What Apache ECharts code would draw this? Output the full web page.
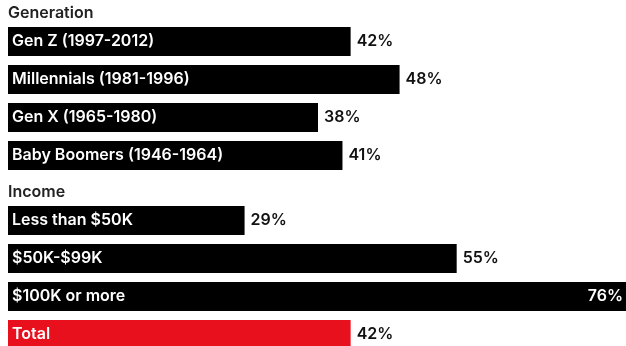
<!DOCTYPE html>
<html>
<head>
<meta charset="utf-8">
<script src="https://cdn.jsdelivr.net/npm/echarts@6/dist/echarts.min.js"></script>
<style>html,body{margin:0;padding:0;background:#fff}#c{width:626px;height:346px}</style>
</head>
<body>
<div id="c"></div>
<script>
var groupTitles = ["Generation", "Income"];
var genCategories = ["Gen Z (1997-2012)", "Millennials (1981-1996)", "Gen X (1965-1980)", "Baby Boomers (1946-1964)"];
var genValues = [42, 48, 38, 41];
var incomeCategories = ["Less than $50K", "$50K-$99K", "$100K or more", "Total"];
var incomeValues = [29, 55, 76, 42];

var FONT = "Inter, 'Noto Sans', sans-serif";
var BLACK = "#000000";
var RED = "#e8101c";

function barData(cats, vals) {
  return vals.map(function (v, i) {
    return { value: v, name: cats[i], itemStyle: { color: cats[i] === "Total" ? RED : BLACK } };
  });
}
function valueData(cats, vals, maxV) {
  return vals.map(function (v, i) {
    var d = { value: v, name: cats[i] };
    if (v >= maxV) {
      d.label = { position: "insideRight", color: "#ffffff", distance: 5 };
    }
    return d;
  });
}
var XMAX = 76;
var grids = [
  { left: 8, top: 22.5, width: 620, height: 152, outerBoundsMode: "none", containLabel: false },
  { left: 8, top: 201.5, width: 620, height: 152, outerBoundsMode: "none", containLabel: false }
];
var groups = [
  { cats: genCategories, vals: genValues },
  { cats: incomeCategories, vals: incomeValues }
];
var xAxes = [], yAxes = [], series = [];
groups.forEach(function (g, gi) {
  xAxes.push({ type: "value", gridIndex: gi, min: 0, max: XMAX, show: false });
  yAxes.push({ type: "category", gridIndex: gi, data: g.cats, inverse: true, show: false });
  series.push({
    type: "bar", xAxisIndex: gi, yAxisIndex: gi, barWidth: 29, barGap: "-100%",
    data: barData(g.cats, g.vals),
    label: { show: true, position: "insideLeft", distance: 4, formatter: "{b}",
      color: "#ffffff", fontFamily: FONT, fontWeight: 600, fontSize: 16 },
    silent: true, animation: false
  });
  series.push({
    type: "bar", xAxisIndex: gi, yAxisIndex: gi, barWidth: 29, barGap: "-100%",
    data: valueData(g.cats, g.vals, XMAX),
    itemStyle: { color: "rgba(0,0,0,0)" },
    label: { show: true, position: "right", distance: 6, formatter: "{c}%",
      color: "#111111", fontFamily: FONT, fontWeight: 600, fontSize: 16 },
    silent: true, animation: false
  });
});

var chart = echarts.init(document.getElementById("c"), null, { renderer: "canvas" });
chart.setOption({
  backgroundColor: "#ffffff",
  animation: false,
  title: [
    { text: groupTitles[0], left: 4, top: 5, padding: [0, 4],
      textStyle: { fontFamily: FONT, fontWeight: 600, fontSize: 16, color: "#222222" } },
    { text: groupTitles[1], left: 4, top: 184, padding: [0, 4],
      textStyle: { fontFamily: FONT, fontWeight: 600, fontSize: 16, color: "#222222" } }
  ],
  grid: grids,
  xAxis: xAxes,
  yAxis: yAxes,
  series: series
});
</script>
</body>
</html>
